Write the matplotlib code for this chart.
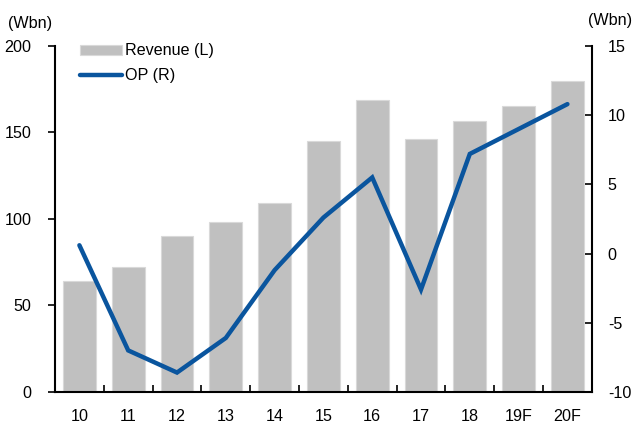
import numpy as np
import matplotlib.pyplot as plt

plt.rcParams['font.family'] = ['Liberation Sans', 'DejaVu Sans']
plt.rcParams['axes.unicode_minus'] = False

# data
years = ['10', '11', '12', '13', '14', '15', '16', '17', '18', '19F', '20F']
revenue = [64, 72, 90, 98, 109, 145, 169, 146.5, 156.5, 165.5, 180]
op = [0.6, -7.0, -8.6, -6.1, -1.2, 2.6, 5.5, -2.6, 7.2, 9.0, 10.8]

fs = 11.6

fig = plt.figure(figsize=(6.35, 4.26), dpi=100)
ax = fig.add_axes([0.0866, 0.08, 0.8454, 0.812])
ax2 = ax.twinx()

x = np.arange(len(years))
bars = ax.bar(x, revenue, width=0.67, color='#C0C0C0', edgecolor='#D9D9D9',
              linewidth=0.8, label='Revenue (L)', zorder=2)
line, = ax2.plot(x, op, color='#0A559E', linewidth=3.2, label='OP (R)',
                 solid_capstyle='round', solid_joinstyle='miter')

ax.set_xlim(-0.5, len(years) - 0.5)
ax.set_ylim(0, 200)
ax.set_yticks([0, 50, 100, 150, 200])
ax2.set_ylim(-10, 15)
ax2.set_yticks([-10, -5, 0, 5, 10, 15])

ax.set_xticks(x)
ax.set_xticklabels(years)
ax.set_xticks(np.arange(0.5, len(years) - 1, 1), minor=True)
ax.tick_params(axis='x', which='major', length=0, pad=12, labelsize=fs)
ax.tick_params(axis='x', which='minor', direction='in', length=5, width=1.2)
ax.tick_params(axis='y', direction='out', length=5, width=1.2, labelsize=fs, pad=12)
ax2.tick_params(axis='y', direction='in', length=5, width=1.2, labelsize=fs, pad=11.5)

for a in (ax, ax2):
    a.spines['top'].set_visible(False)
    for s in ('left', 'right', 'bottom'):
        a.spines[s].set_linewidth(1.5)
ax.spines['right'].set_visible(False)
ax2.spines['left'].set_visible(False)
ax2.spines['bottom'].set_visible(False)

fig.text(0.012, 0.945, '(Wbn)', fontsize=fs, ha='left', va='center')
fig.text(0.996, 0.952, '(Wbn)', fontsize=fs, ha='right', va='center')

ax2.legend([bars, line], ['Revenue (L)', 'OP (R)'], loc='upper left',
           bbox_to_anchor=(0.035, 1.026), frameon=False, fontsize=fs,
           handlelength=2.6, handleheight=0.6, handletextpad=0.15,
           labelspacing=0.6, borderaxespad=0)

fig.savefig('out.png', dpi=100)
